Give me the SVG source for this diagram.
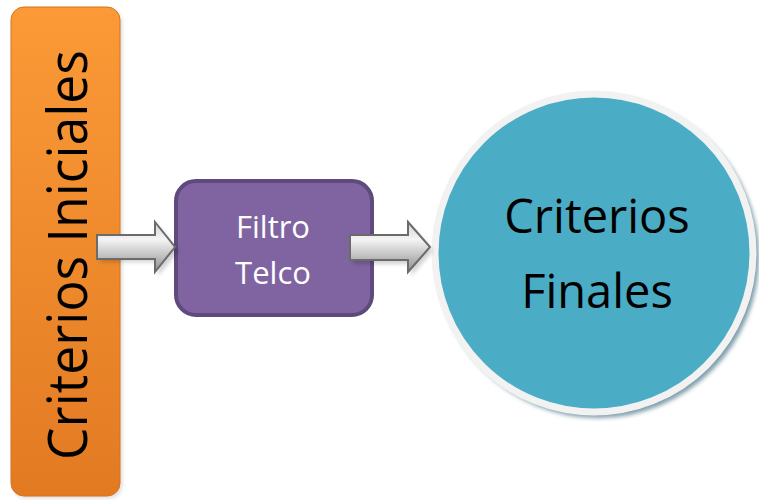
<svg xmlns="http://www.w3.org/2000/svg" width="759" height="500" viewBox="0 0 759 500">
<defs>
<style>
.lbl{font-family:"Open Sans","Liberation Sans",sans-serif;text-anchor:middle}
.arrow{fill:url(#gArrow);stroke:#6b6b6b;stroke-width:2}
.ashadow{fill:#000;opacity:0.18}
</style>
<linearGradient id="gOrange" x1="0" y1="0" x2="0" y2="1">
<stop offset="0" stop-color="#fb9a37"/>
<stop offset="1" stop-color="#e27a22"/>
</linearGradient>
<linearGradient id="gArrow" x1="0" y1="0" x2="0" y2="1">
<stop offset="0" stop-color="#d4d4d4"/>
<stop offset="0.35" stop-color="#f4f4f4"/>
<stop offset="1" stop-color="#8e8e8e"/>
</linearGradient>
<filter id="blur" x="-20%" y="-20%" width="140%" height="140%"><feGaussianBlur stdDeviation="2"/></filter>
</defs>
<g id="criterios-iniciales">
<rect x="13" y="10" width="109" height="488" rx="13" fill="#000" opacity="0.15" filter="url(#blur)"/>
<rect x="11" y="7" width="109" height="489" rx="13" fill="url(#gOrange)" stroke="#d9731c" stroke-width="1"/>
<text class="lbl" transform="translate(87,255) rotate(-90)" font-size="54" textLength="410" lengthAdjust="spacingAndGlyphs" fill="#000">Criterios Iniciales</text>
</g>
<g id="filtro-telco">
<rect x="176" y="181" width="196" height="134" rx="20" fill="#8064a2" stroke="#5e4a7d" stroke-width="4"/>
<text class="lbl" x="273" y="238" font-size="31" fill="#fff">Filtro</text>
<text class="lbl" x="273" y="284" font-size="31" fill="#fff">Telco</text>
</g>
<g id="criterios-finales">
<circle cx="598" cy="257" r="161" fill="#7f9eab" filter="url(#blur)"/>
<circle cx="594" cy="253" r="159" fill="#4bacc6" stroke="#f2f2f2" stroke-width="7"/>
<text class="lbl" x="597" y="233" font-size="47" fill="#000">Criterios</text>
<text class="lbl" x="597" y="308" font-size="47" fill="#000">Finales</text>
</g>
<g id="connectors">
<path class="ashadow" filter="url(#blur)" d="M100,239 H158 V226 L179,251 L158,276 V262 H100 Z"/>
<path class="arrow" d="M97,235 H155 V222 L175,247 L155,272 V259 H97 Z"/>
<path class="ashadow" filter="url(#blur)" d="M353,239 H411 V226 L433,251 L411,276 V264 H353 Z"/>
<path class="arrow" d="M350,235 H408 V222 L430,247 L408,272 V260 H350 Z"/>
</g>
</svg>
